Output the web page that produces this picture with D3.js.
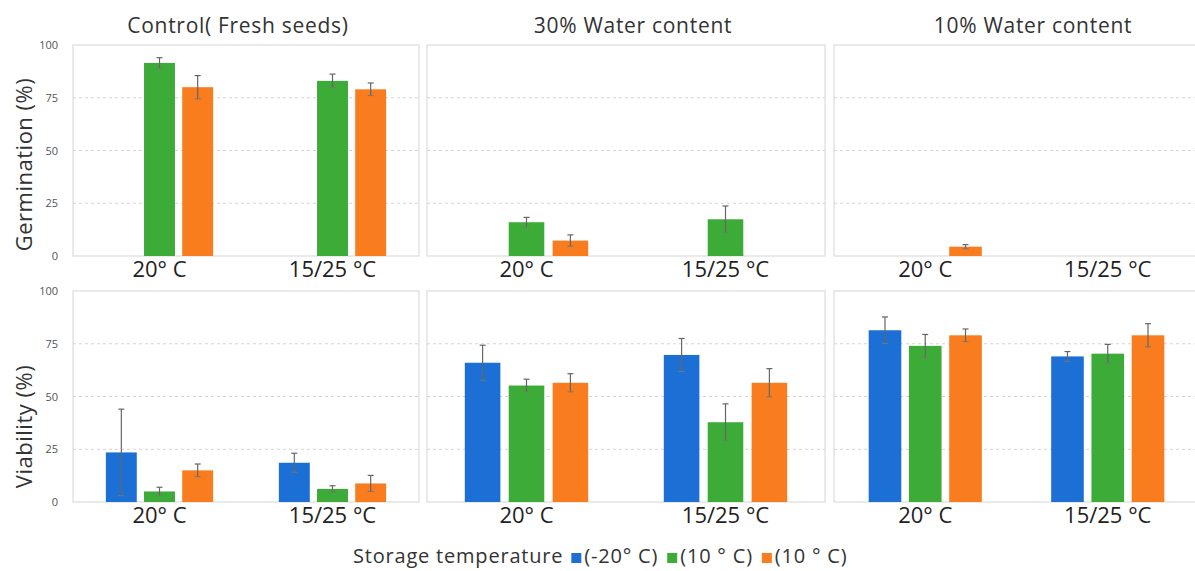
<!DOCTYPE html>
<html>
<head>
<meta charset="utf-8">
<script src="https://cdn.jsdelivr.net/npm/d3@7"></script>
<style>
  body { margin: 0; background: #fff; }
  text { font-family: "Open Sans", "Noto Sans", sans-serif; }
</style>
</head>
<body>
<svg id="chart"></svg>
<script>
var width = 1195,
    height = 571

// data
var groups = ["20° C", "15/25 °C"]
var seriesNames = ["(-20° C)", "(10 ° C)", "(10 ° C)"]
var colors = ["#1c6fd4", "#3cab37", "#f97d1e"]
var panelTitles = ["Control( Fresh seeds)", "30% Water content", "10% Water content"]
var rowLabels = ["Germination (%)", "Viability (%)"]
var yTicks = [0, 25, 50, 75, 100]

// values[group][series], null = no bar
var germControl = [[null, 91.5, 80], [null, 83, 79]]
var germControlErr = [[0, 2.5, 5.5], [0, 3.2, 3]]
var germ30 = [[null, 16, 7.3], [null, 17.4, null]]
var germ30Err = [[0, 2.3, 2.7], [0, 6.3, 0]]
var germ10 = [[null, null, 4.4], [null, null, null]]
var germ10Err = [[0, 0, 1], [0, 0, 0]]
var viabControl = [[23.5, 5, 15], [18.6, 6.2, 8.8]]
var viabControlErr = [[20.5, 2, 3], [4.5, 1.5, 3.8]]
var viab30 = [[66, 55.2, 56.5], [69.7, 37.8, 56.5]]
var viab30Err = [[8.3, 3, 4.3], [7.8, 8.7, 6.7]]
var viab10 = [[81.4, 74, 79], [69, 70.3, 79]]
var viab10Err = [[6.3, 5.4, 3], [2.3, 4.4, 5.5]]

var rows = [
    [[germControl, germControlErr], [germ30, germ30Err], [germ10, germ10Err]],
    [[viabControl, viabControlErr], [viab30, viab30Err], [viab10, viab10Err]]
]

var svg = d3.select("#chart")
    .attr("width", width)
    .attr("height", height)

var colX = [[73, 419], [427, 825], [834, 1199]]
var rowY = [[45, 256], [291, 502]]
var titleX = [238, 633, 1033]
var labelShift = [14, 30]

rows.forEach(function (row, ri) {
    var y = d3.scaleLinear().domain([0, 100]).range([rowY[ri][1], rowY[ri][0]])

    // y tick labels on left only
    svg.append("g")
        .selectAll("text")
        .data(yTicks)
        .enter().append("text")
        .attr("x", 58)
        .attr("y", function (d) { return y(d) + 4 })
        .attr("text-anchor", "end")
        .attr("font-size", 11)
        .attr("fill", "#555")
        .text(function (d) { return d })

    // row label
    var cy = (rowY[ri][0] + rowY[ri][1]) / 2 + labelShift[ri]
    svg.append("text")
        .attr("transform", "translate(32," + cy + ") rotate(-90)")
        .attr("text-anchor", "middle")
        .attr("font-size", 22)
        .attr("letter-spacing", 0.5)
        .attr("fill", "#333")
        .text(rowLabels[ri])

    row.forEach(function (panel, ci) {
        var vals = panel[0], errs = panel[1]
        var x0 = d3.scaleBand().domain(groups).range(colX[ci])
        var bw = x0.bandwidth()
        var x1 = d3.scaleBand().domain([0, 1, 2])
            .range([0.19 * bw, 0.81 * bw])
            .paddingInner(0.19)

        var g = svg.append("g")

        // frame
        g.append("rect")
            .attr("x", colX[ci][0])
            .attr("y", rowY[ri][0])
            .attr("width", colX[ci][1] - colX[ci][0])
            .attr("height", rowY[ri][1] - rowY[ri][0])
            .attr("fill", "none")
            .attr("stroke", "#dcdcdc")
            .attr("stroke-width", 1.2)

        // grid
        g.selectAll(".grid")
            .data([25, 50, 75])
            .enter().append("line")
            .attr("x1", colX[ci][0])
            .attr("x2", colX[ci][1])
            .attr("y1", function (d) { return y(d) })
            .attr("y2", function (d) { return y(d) })
            .attr("stroke", "#d4d4d4")
            .attr("stroke-dasharray", "3,3")

        groups.forEach(function (grp, gi) {
            vals[gi].forEach(function (v, si) {
                if (v == null) return
                var bx = x0(grp) + x1(si)
                g.append("rect")
                    .attr("x", bx)
                    .attr("y", y(v))
                    .attr("width", x1.bandwidth())
                    .attr("height", y(0) - y(v))
                    .attr("fill", colors[si])
                var e = errs[gi][si]
                if (e > 0) {
                    var cx = bx + x1.bandwidth() / 2
                    var lo = Math.max(0, v - e)
                    g.append("line")
                        .attr("x1", cx).attr("x2", cx)
                        .attr("y1", y(v + e)).attr("y2", y(lo))
                        .attr("stroke", "#666").attr("stroke-width", 1.2)
                    g.append("line")
                        .attr("x1", cx - 3).attr("x2", cx + 3)
                        .attr("y1", y(v + e)).attr("y2", y(v + e))
                        .attr("stroke", "#666").attr("stroke-width", 1.2)
                    g.append("line")
                        .attr("x1", cx - 3).attr("x2", cx + 3)
                        .attr("y1", y(lo)).attr("y2", y(lo))
                        .attr("stroke", "#777").attr("stroke-width", 1)
                }
            })
        })

        // x labels
        g.selectAll(".xl")
            .data(groups)
            .enter().append("text")
            .attr("x", function (d) { return x0(d) + bw / 2 })
            .attr("y", rowY[ri][1] + 21)
            .attr("text-anchor", "middle")
            .attr("font-size", 22)
            .attr("fill", "#222")
            .text(function (d) { return d })

        if (ri == 0) {
            svg.append("text")
                .attr("x", titleX[ci])
                .attr("y", 33)
                .attr("text-anchor", "middle")
                .attr("font-size", 21)
                .attr("letter-spacing", 0.7)
                .attr("fill", "#333")
                .text(panelTitles[ci])
        }
    })
})

// legend
var legend = svg.append("g")
var lx = 353
var title = legend.append("text")
    .attr("x", lx).attr("y", 563)
    .attr("font-size", 20)
    .attr("letter-spacing", 0.8)
    .attr("fill", "#333")
    .text("Storage temperature")
lx += title.node().getComputedTextLength() + 8
seriesNames.forEach(function (s, i) {
    legend.append("rect")
        .attr("x", lx).attr("y", 553)
        .attr("width", 10).attr("height", 10)
        .attr("fill", colors[i])
    var t = legend.append("text")
        .attr("x", lx + 13).attr("y", 563)
        .attr("font-size", 20)
        .attr("letter-spacing", 0.8)
        .attr("fill", "#333")
        .text(s)
    lx += 13 + t.node().getComputedTextLength() + 9
})
</script>
</body>
</html>
